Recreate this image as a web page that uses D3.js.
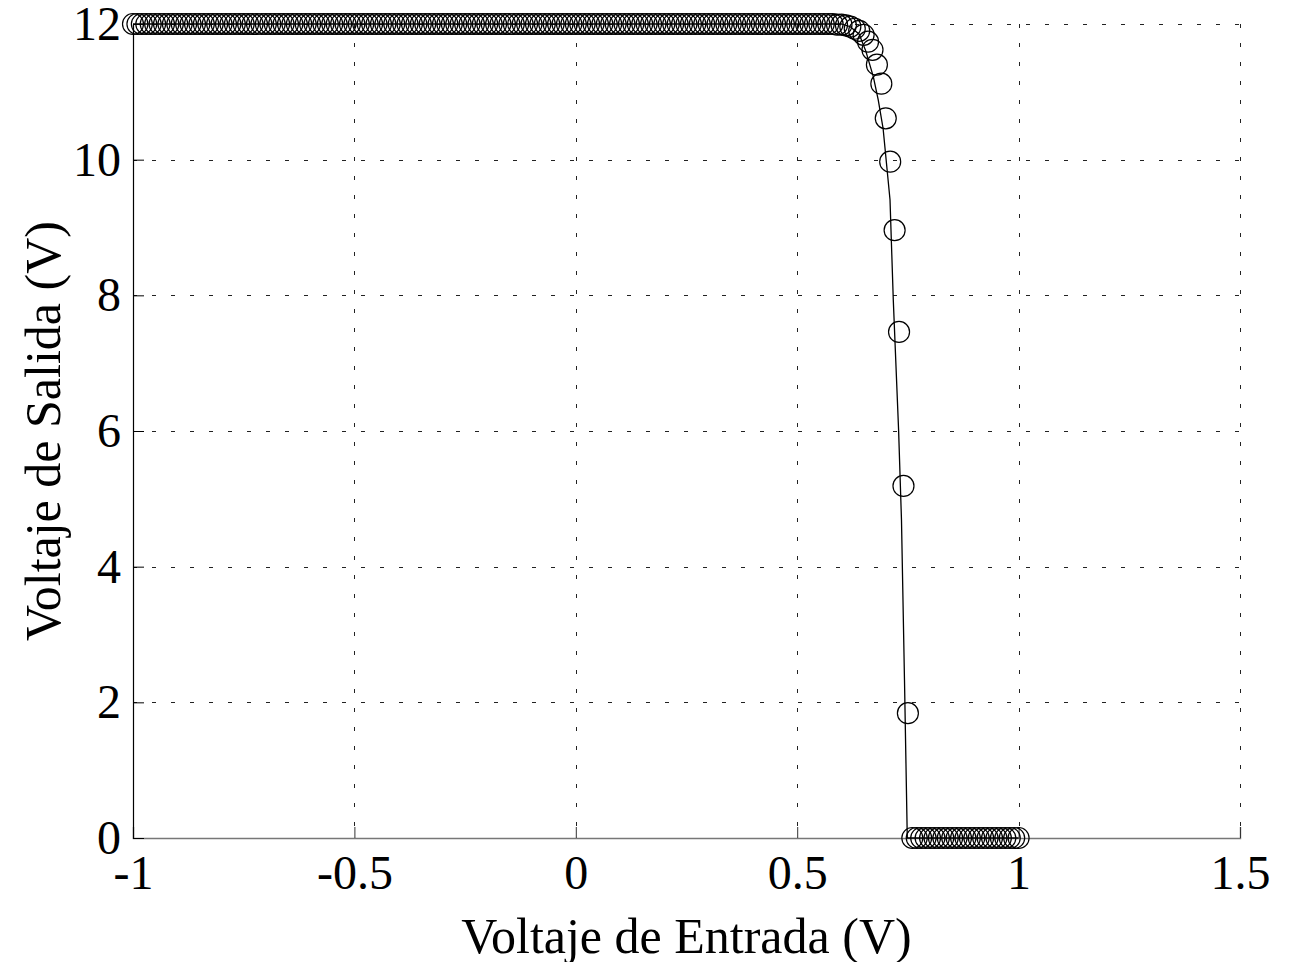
<!DOCTYPE html>
<html>
<head>
<meta charset="utf-8">
<script src="https://cdn.jsdelivr.net/npm/d3@7"></script>
<style>
  body { margin: 0; background: #fff; }
  svg { display: block; }
  text { font-family: "Liberation Serif", "Times New Roman", serif; fill: #000; }
</style>
</head>
<body>
<svg id="chart"></svg>
<script>
// Canvas size
const width = 1290;
const height = 962;
const margin = { top: 24, right: 50, bottom: 124, left: 133 };

// Measured points (circles): input voltage
const inputV = [
  -1.00, -0.99, -0.98, -0.97, -0.96, -0.95, -0.94, -0.93, -0.92, -0.91,
  -0.90, -0.89, -0.88, -0.87, -0.86, -0.85, -0.84, -0.83, -0.82, -0.81,
  -0.80, -0.79, -0.78, -0.77, -0.76, -0.75, -0.74, -0.73, -0.72, -0.71,
  -0.70, -0.69, -0.68, -0.67, -0.66, -0.65, -0.64, -0.63, -0.62, -0.61,
  -0.60, -0.59, -0.58, -0.57, -0.56, -0.55, -0.54, -0.53, -0.52, -0.51,
  -0.50, -0.49, -0.48, -0.47, -0.46, -0.45, -0.44, -0.43, -0.42, -0.41,
  -0.40, -0.39, -0.38, -0.37, -0.36, -0.35, -0.34, -0.33, -0.32, -0.31,
  -0.30, -0.29, -0.28, -0.27, -0.26, -0.25, -0.24, -0.23, -0.22, -0.21,
  -0.20, -0.19, -0.18, -0.17, -0.16, -0.15, -0.14, -0.13, -0.12, -0.11,
  -0.10, -0.09, -0.08, -0.07, -0.06, -0.05, -0.04, -0.03, -0.02, -0.01,
   0.00,  0.01,  0.02,  0.03,  0.04,  0.05,  0.06,  0.07,  0.08,  0.09,
   0.10,  0.11,  0.12,  0.13,  0.14,  0.15,  0.16,  0.17,  0.18,  0.19,
   0.20,  0.21,  0.22,  0.23,  0.24,  0.25,  0.26,  0.27,  0.28,  0.29,
   0.30,  0.31,  0.32,  0.33,  0.34,  0.35,  0.36,  0.37,  0.38,  0.39,
   0.40,  0.41,  0.42,  0.43,  0.44,  0.45,  0.46,  0.47,  0.48,  0.49,
   0.50,  0.51,  0.52,  0.53,  0.54,  0.55,  0.56,  0.57,  0.58,  0.59,
   0.60,  0.61,  0.62,  0.63,  0.64,  0.65,  0.66,  0.67,  0.68,  0.69,
   0.70,  0.71,  0.72,  0.73,  0.74,  0.75,  0.76,  0.77,  0.78,  0.79,
   0.80,  0.81,  0.82,  0.83,  0.84,  0.85,  0.86,  0.87,  0.88,  0.89,
   0.90,  0.91,  0.92,  0.93,  0.94,  0.95,  0.96,  0.97,  0.98,  0.99,
   1.00
];

// Measured points (circles): output voltage
const outputV = [
  12, 12, 12, 12, 12, 12, 12, 12, 12, 12,
  12, 12, 12, 12, 12, 12, 12, 12, 12, 12,
  12, 12, 12, 12, 12, 12, 12, 12, 12, 12,
  12, 12, 12, 12, 12, 12, 12, 12, 12, 12,
  12, 12, 12, 12, 12, 12, 12, 12, 12, 12,
  12, 12, 12, 12, 12, 12, 12, 12, 12, 12,
  12, 12, 12, 12, 12, 12, 12, 12, 12, 12,
  12, 12, 12, 12, 12, 12, 12, 12, 12, 12,
  12, 12, 12, 12, 12, 12, 12, 12, 12, 12,
  12, 12, 12, 12, 12, 12, 12, 12, 12, 12,
  12, 12, 12, 12, 12, 12, 12, 12, 12, 12,
  12, 12, 12, 12, 12, 12, 12, 12, 12, 12,
  12, 12, 12, 12, 12, 12, 12, 12, 12, 12,
  12, 12, 12, 12, 12, 12, 12, 12, 12, 12,
  12, 12, 12, 12, 12, 12, 12, 12, 12, 12,
  12, 12, 12, 12, 12, 12, 12, 12, 12, 11.99,
  11.99, 11.98, 11.96, 11.93, 11.90, 11.84, 11.74, 11.62, 11.40, 11.12,
  10.61, 9.97, 8.96, 7.46, 5.19, 1.84, 0, 0, 0, 0,
  0, 0, 0, 0, 0, 0, 0, 0, 0, 0,
  0, 0, 0, 0, 0, 0, 0, 0, 0, 0,
  0
];

// Simulated curve (solid line)
const simX = [-1.00, 0.60, 0.62, 0.64, 0.655, 0.672, 0.683, 0.694, 0.7096, 0.717, 0.729, 0.7355, 0.7423, 0.7486, 1.00];
const simY = [12.00, 12.00, 11.96, 11.85, 11.60, 11.22, 10.88, 10.46, 9.41, 7.93, 6.01, 4.69, 2.33, 0.00, 0.00];

// Axis ticks and labels
const xTicks = [-1, -0.5, 0, 0.5, 1, 1.5];
const yTicks = [0, 2, 4, 6, 8, 10, 12];
const xLabel = "Voltaje de Entrada (V)";
const yLabel = "Voltaje de Salida (V)";

const svg = d3.select("#chart")
    .attr("width", width)
    .attr("height", height);

const innerW = width - margin.left - margin.right;
const innerH = height - margin.top - margin.bottom;

const x = d3.scaleLinear().domain([-1, 1.5]).range([margin.left, margin.left + innerW]);
const y = d3.scaleLinear().domain([0, 12]).range([margin.top + innerH, margin.top]);

// Dotted grid
const grid = svg.append("g").attr("class", "grid");
grid.selectAll(".gx")
    .data(xTicks)
    .enter().append("line")
    .attr("x1", d => Math.round(x(d)) + 0.5)
    .attr("x2", d => Math.round(x(d)) + 0.5)
    .attr("y1", y(12))
    .attr("y2", y(0))
    .attr("stroke", "#222")
    .attr("stroke-width", 1)
    .attr("stroke-dasharray", "4,15");
grid.selectAll(".gy")
    .data(yTicks)
    .enter().append("line")
    .attr("x1", x(-1))
    .attr("x2", x(1.5))
    .attr("y1", d => Math.round(y(d)) + 0.5)
    .attr("y2", d => Math.round(y(d)) + 0.5)
    .attr("stroke", "#222")
    .attr("stroke-width", 1)
    .attr("stroke-dasharray", "4,15");

// Axes (ticks point inward, no box)
const xAxis = d3.axisBottom(x)
    .tickValues(xTicks)
    .tickSize(-11)
    .tickFormat(d => String(d));
const yAxis = d3.axisLeft(y)
    .tickValues(yTicks)
    .tickSize(-11)
    .tickPadding(12)
    .tickFormat(d => String(d));

const gx = svg.append("g")
    .attr("transform", `translate(0,${y(0)})`)
    .call(xAxis);
gx.select(".domain").attr("stroke", "#777").attr("stroke-width", 1.4);
gx.selectAll(".tick line").attr("stroke", "#333");
gx.selectAll("text")
    .attr("y", 51)
    .attr("dy", null)
    .attr("font-size", 48)
    .attr("font-family", "Liberation Serif, serif");

const gy = svg.append("g")
    .attr("transform", `translate(${x(-1)},0)`)
    .call(yAxis);
gy.select(".domain").attr("stroke", "#000").attr("stroke-width", 1.2);
gy.selectAll(".tick line").attr("stroke", "#000");
gy.selectAll("text")
    .attr("font-size", 48)
    .attr("font-family", "Liberation Serif, serif");

// Simulated line
const line = d3.line()
    .x((d, i) => x(simX[i]))
    .y(d => y(d));
svg.append("path")
    .datum(simY)
    .attr("d", line)
    .attr("fill", "none")
    .attr("stroke", "#000")
    .attr("stroke-width", 1.3);

// Measured circles
svg.append("g")
    .selectAll("circle")
    .data(outputV)
    .enter().append("circle")
    .attr("cx", (d, i) => x(inputV[i]))
    .attr("cy", d => y(d))
    .attr("r", 10.5)
    .attr("fill", "none")
    .attr("stroke", "#000")
    .attr("stroke-width", 1.2);

// Axis labels
svg.append("text")
    .attr("x", x(0.25))
    .attr("y", 953)
    .attr("text-anchor", "middle")
    .attr("font-size", 50)
    .text(xLabel);

svg.append("text")
    .attr("transform", `translate(60,${y(6)}) rotate(-90)`)
    .attr("text-anchor", "middle")
    .attr("font-size", 50)
    .text(yLabel);
</script>
</body>
</html>
